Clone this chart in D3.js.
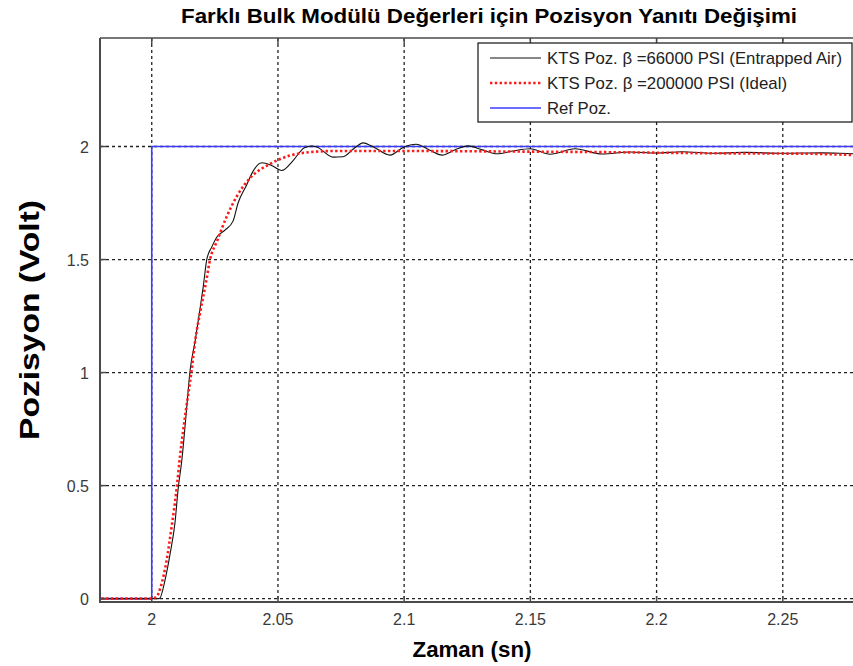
<html>

<head>
    <title>Pozisyon Yaniti</title>
    <meta charset="utf-8" />
    <script src="https://cdn.jsdelivr.net/npm/d3@7/dist/d3.min.js" type="text/JavaScript"></script>
</head>
<style>
    body {
        margin: 0;
        background: white;
    }
    svg {
        font-family: "Liberation Sans", Arial, sans-serif;
    }
    .grid line {
        stroke: #222;
        stroke-width: 1.3px;
        stroke-dasharray: 3, 3;
    }
    .tick-label {
        fill: #3a3a3a;
        font-size: 16px;
    }
</style>

<body>
    <svg id="chart" width="853" height="666"></svg>
</body>
<footer>

    <script>
        // time axis ticks and position ticks
        var xTicks = [2, 2.05, 2.1, 2.15, 2.2, 2.25];
        var yTicks = [0, 0.5, 1, 1.5, 2];

        // beta = 66000 PSI (entrapped air) response
        var timeAir = [1.98, 2.003, 2.0053, 2.0073, 2.0092, 2.0105, 2.0119, 2.0135, 2.0152, 2.0172, 2.0191, 2.0204,
            2.0218, 2.0238, 2.0258, 2.029, 2.0322, 2.0342, 2.0376, 2.0401, 2.0436, 2.0475, 2.0515, 2.056, 2.0605,
            2.0634, 2.0654, 2.0718, 2.0758, 2.08, 2.0837, 2.0875, 2.0944, 2.0996, 2.1047, 2.11, 2.115, 2.12, 2.1253,
            2.131, 2.1368, 2.143, 2.1499, 2.1578, 2.1677, 2.1784, 2.1895, 2.2, 2.21, 2.222, 2.235, 2.25, 2.265, 2.28, 2.3];
        var posAir = [0, 0, 0.084, 0.2, 0.335, 0.49, 0.61, 0.8, 1.01, 1.14, 1.28, 1.38,
            1.5, 1.556, 1.6, 1.63, 1.67, 1.75, 1.83, 1.89, 1.928, 1.916, 1.894, 1.938, 1.995,
            2.002, 1.998, 1.953, 1.955, 1.99, 2.016, 2.0, 1.962, 1.996, 2.01, 1.985, 1.962, 1.985, 2.003,
            1.985, 1.968, 1.98, 1.99, 1.966, 1.99, 1.967, 1.976, 1.971, 1.977, 1.97, 1.974, 1.97, 1.972, 1.968, 1.968];

        // beta = 200000 PSI (ideal) response
        var timeIdeal = [1.98, 2.0, 2.002, 2.0035, 2.0059, 2.0079, 2.0099, 2.0112, 2.0135, 2.0158, 2.0172, 2.0194,
            2.0215, 2.0231, 2.0258, 2.0297, 2.0337, 2.0389, 2.0469, 2.0548, 2.0627, 2.0718, 2.1, 2.14, 2.18,
            2.224, 2.26, 2.28, 2.3];
        var posIdeal = [0, 0, 0.01, 0.05, 0.17, 0.32, 0.49, 0.63, 0.83, 1.01, 1.14, 1.28,
            1.4, 1.5, 1.58, 1.69, 1.78, 1.86, 1.923, 1.96, 1.975, 1.98, 1.98, 1.978, 1.975,
            1.97, 1.968, 1.962, 1.96];

        // reference step
        var timeRef = [1.98, 2.0, 2.0, 2.3];
        var posRef = [0, 0, 2, 2];

        var legendNames = ["KTS Poz. \u03b2 =66000 PSI (Entrapped Air)", "KTS Poz. \u03b2 =200000 PSI (Ideal)", "Ref Poz."];

        var svg = d3.select("#chart");
        // note: "top" is taken by window.top, so use m* names
        var mLeft = 100, mTop = 38, mBottom = 602, mRight = 909;

        var x = d3.scaleLinear().domain([1.9795, 2.3]).range([mLeft, mRight]);
        var y = d3.scaleLinear().domain([-0.015, 2.48]).range([mBottom, mTop]);

        var plot = svg.append("g");

        // dashed grid
        var grid = plot.append("g").classed("grid", true);
        grid.selectAll("line.v").data(xTicks).enter().append("line")
            .attr("x1", d => x(d)).attr("x2", d => x(d))
            .attr("y1", mTop).attr("y2", mBottom);
        grid.selectAll("line.h").data(yTicks).enter().append("line")
            .attr("x1", mLeft).attr("x2", mRight)
            .attr("y1", d => y(d)).attr("y2", d => y(d));

        function pts(ts, vs) {
            return ts.map(function(t, i) { return [t, vs[i]]; });
        }
        var line = d3.line().x(d => x(d[0])).y(d => y(d[1])).curve(d3.curveMonotoneX);

        plot.append("path")
            .attr("d", d3.line().x(d => x(d[0])).y(d => y(d[1]))(pts(timeRef, posRef)))
            .attr("fill", "none").attr("stroke", "#3b3bff").attr("stroke-width", 1.6);

        plot.append("path")
            .attr("d", line(pts(timeAir, posAir)))
            .attr("fill", "none").attr("stroke", "#111").attr("stroke-width", 1.1);

        plot.append("path")
            .attr("d", line(pts(timeIdeal, posIdeal)))
            .attr("fill", "none").attr("stroke", "#ff1a1a").attr("stroke-width", 2.6)
            .attr("stroke-dasharray", "2.4,2.4");

        // axes box and inner ticks
        var axisColor = "#4a4a4a";
        plot.append("line").attr("x1", mLeft).attr("x2", mLeft).attr("y1", mTop).attr("y2", mBottom + 1)
            .attr("stroke", axisColor).attr("stroke-width", 2);
        plot.append("line").attr("x1", mLeft).attr("x2", mRight).attr("y1", mBottom).attr("y2", mBottom)
            .attr("stroke", axisColor).attr("stroke-width", 2);
        plot.append("line").attr("x1", mLeft).attr("x2", mRight).attr("y1", mTop).attr("y2", mTop)
            .attr("stroke", axisColor).attr("stroke-width", 1.5);

        plot.selectAll("line.xt").data(xTicks).enter().append("line")
            .attr("x1", d => x(d)).attr("x2", d => x(d)).attr("y1", mBottom).attr("y2", mBottom - 6)
            .attr("stroke", axisColor).attr("stroke-width", 1.5);
        plot.selectAll("line.xt2").data(xTicks).enter().append("line")
            .attr("x1", d => x(d)).attr("x2", d => x(d)).attr("y1", mTop).attr("y2", mTop + 6)
            .attr("stroke", axisColor).attr("stroke-width", 1.5);
        plot.selectAll("line.yt").data(yTicks).enter().append("line")
            .attr("x1", mLeft).attr("x2", mLeft + 6).attr("y1", d => y(d)).attr("y2", d => y(d))
            .attr("stroke", axisColor).attr("stroke-width", 1.5);

        // tick labels
        svg.selectAll("text.xl").data(xTicks).enter().append("text")
            .classed("tick-label", true)
            .attr("x", d => x(d)).attr("y", mBottom + 23)
            .attr("text-anchor", "middle")
            .text(d => d3.format("")(d));
        svg.selectAll("text.yl").data(yTicks).enter().append("text")
            .classed("tick-label", true)
            .attr("x", mLeft - 11).attr("y", d => y(d) + 6)
            .attr("text-anchor", "end")
            .text(d => d3.format("")(d));

        // titles
        svg.append("text")
            .attr("x", 489).attr("y", 23)
            .attr("text-anchor", "middle")
            .attr("textLength", 616).attr("lengthAdjust", "spacingAndGlyphs")
            .style("font-size", "20px").style("font-weight", "bold")
            .text("Farkl\u0131 Bulk Mod\u00fcl\u00fc De\u011ferleri i\u00e7in Pozisyon Yan\u0131t\u0131 De\u011fi\u015fimi");
        svg.append("text")
            .attr("x", 472).attr("y", 657)
            .attr("text-anchor", "middle")
            .attr("textLength", 119).attr("lengthAdjust", "spacingAndGlyphs")
            .style("font-size", "22px").style("font-weight", "bold")
            .text("Zaman (sn)");
        svg.append("text")
            .attr("transform", "translate(39,320) rotate(-90)")
            .attr("text-anchor", "middle")
            .attr("textLength", 240).attr("lengthAdjust", "spacingAndGlyphs")
            .style("font-size", "28px").style("font-weight", "bold")
            .text("Pozisyon (Volt)");

        // legend
        var lg = svg.append("g").attr("transform", "translate(478,43)");
        lg.append("rect").attr("width", 374).attr("height", 79)
            .attr("fill", "white").attr("stroke", "#111").attr("stroke-width", 1.2);
        var styles = [
            { c: "#111", w: 1.1, dash: null, len: 295 },
            { c: "#ff1a1a", w: 2.6, dash: "2.4,2.4", len: 240 },
            { c: "#3b3bff", w: 1.6, dash: null, len: 64 }
        ];
        var items = lg.selectAll("g.item").data(legendNames).enter().append("g")
            .attr("transform", function(d, i) { return "translate(0," + (15 + i * 25) + ")"; });
        items.append("line").attr("x1", 12).attr("x2", 63)
            .attr("stroke", (d, i) => styles[i].c)
            .attr("stroke-width", (d, i) => styles[i].w)
            .attr("stroke-dasharray", (d, i) => styles[i].dash);
        items.append("text").attr("x", 69).attr("y", 6)
            .attr("textLength", (d, i) => styles[i].len).attr("lengthAdjust", "spacingAndGlyphs")
            .style("font-size", "17px").attr("fill", "#222")
            .text(d => d);
    </script>
</footer>

</html>
